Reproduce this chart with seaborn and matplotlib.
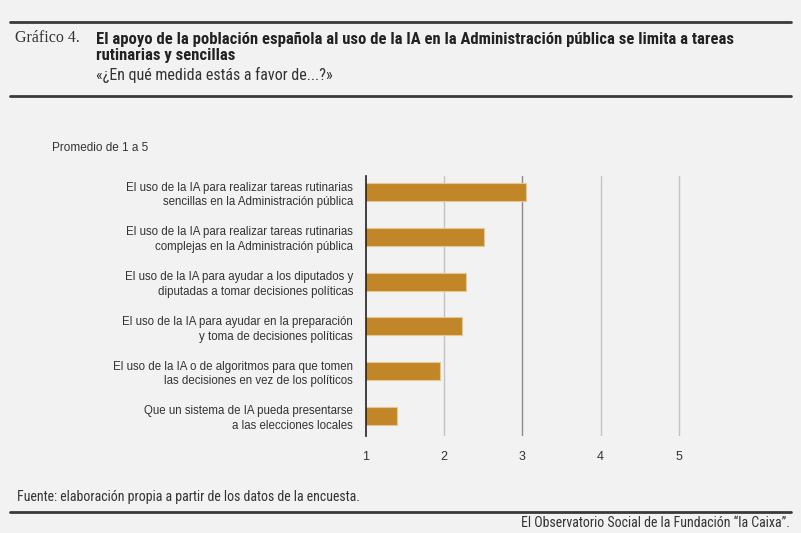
import matplotlib
matplotlib.use("Agg")
import matplotlib.pyplot as plt
import seaborn as sns
import pandas as pd

# Data
labels = [
    "El uso de la IA para realizar tareas rutinarias\nsencillas en la Administración pública",
    "El uso de la IA para realizar tareas rutinarias\ncomplejas en la Administración pública",
    "El uso de la IA para ayudar a los diputados y\ndiputadas a tomar decisiones políticas",
    "El uso de la IA para ayudar en la preparación\ny toma de decisiones políticas",
    "El uso de la IA o de algoritmos para que tomen\nlas decisiones en vez de los políticos",
    "Que un sistema de IA pueda presentarse\na las elecciones locales",
]
values = [3.05, 2.51, 2.28, 2.23, 1.95, 1.40]
xticks = [1, 2, 3, 4, 5]

BG = "#f2f2f2"
BAR = "#c08628"
TXT = "#333333"
COND = ["Roboto Condensed", "Liberation Sans Narrow", "DejaVu Sans"]

sns.set_style("white")
plt.rcParams["font.family"] = ["Liberation Sans", "DejaVu Sans"]

fig = plt.figure(figsize=(8.01, 5.33), dpi=100, facecolor=BG)
# x=1 at px 365.5, x=5 at px 679 -> extend slightly past 5 so the last gridline shows
ax = fig.add_axes([365.5 / 801, 0.182, (681 - 365.5) / 801, 0.4878], facecolor=BG)

df = pd.DataFrame({"label": labels, "value": values})
sns.barplot(data=df, x="value", y="label", orient="h", color=BAR, width=0.4,
            edgecolor="#e6c894", linewidth=0.8, saturation=1, ax=ax, zorder=3)

ax.set_xlim(1, 1 + 4 * (681 - 365.5) / (679 - 365.5))
ax.set_ylim(5.45, -0.36)
ax.set_xticks(xticks)
ax.set_xticklabels([str(t) for t in xticks])
ax.set_xlabel("")
ax.set_ylabel("")
ax.grid(axis="x", color="#c4c4c4", linewidth=1, zorder=0)
ax.set_axisbelow(True)
for i, gl in enumerate(ax.get_xgridlines()):
    if xticks[i] == 3:
        gl.set_color("#8a8a8a")
    if xticks[i] == 1:
        gl.set_visible(False)
for side in ["top", "right", "bottom"]:
    ax.spines[side].set_visible(False)
ax.spines["left"].set_color("#222222")
ax.spines["left"].set_linewidth(1.2)
ax.spines["left"].set_zorder(4)
ax.tick_params(axis="x", length=0, pad=11, labelsize=9, labelcolor=TXT)
ax.tick_params(axis="y", length=0, pad=9, labelsize=8.3, labelcolor=TXT)
for t in ax.get_yticklabels():
    t.set_horizontalalignment("right")
    t.set_linespacing(1.3)

# Header and footer
def hline(y, lw=2.0):
    fig.add_artist(plt.Line2D([10 / 801, 791 / 801], [1 - y / 533] * 2,
                              color="#3a3a3a", linewidth=lw, transform=fig.transFigure))

hline(22)
hline(96)
hline(512)

fig.text(15 / 801, 1 - 38 / 533, "Gráfico 4.", family=["Liberation Serif", "DejaVu Serif"],
         fontsize=11.5, color=TXT, va="center", ha="left")
fig.text(96 / 801, 1 - 47.5 / 533,
         "El apoyo de la población española al uso de la IA en la Administración pública se limita a tareas\nrutinarias y sencillas",
         fontsize=12, fontweight="bold", color="#222222", va="center", ha="left",
         linespacing=1.12, family=COND)
fig.text(96 / 801, 1 - 75 / 533, "«¿En qué medida estás a favor de...?»",
         fontsize=11.5, color=TXT, va="center", ha="left", family=COND)
fig.text(52 / 801, 1 - 148 / 533, "Promedio de 1 a 5", fontsize=8.5, color=TXT,
         va="center", ha="left")
fig.text(17 / 801, 1 - 497 / 533, "Fuente: elaboración propia a partir de los datos de la encuesta.",
         fontsize=10, color=TXT, va="center", ha="left", family=COND)
fig.text(790 / 801, 1 - 523 / 533, "El Observatorio Social de la Fundación “la Caixa”.",
         fontsize=10, color=TXT, va="center", ha="right", family=COND)

fig.savefig("out.png", dpi=100, facecolor=BG)
